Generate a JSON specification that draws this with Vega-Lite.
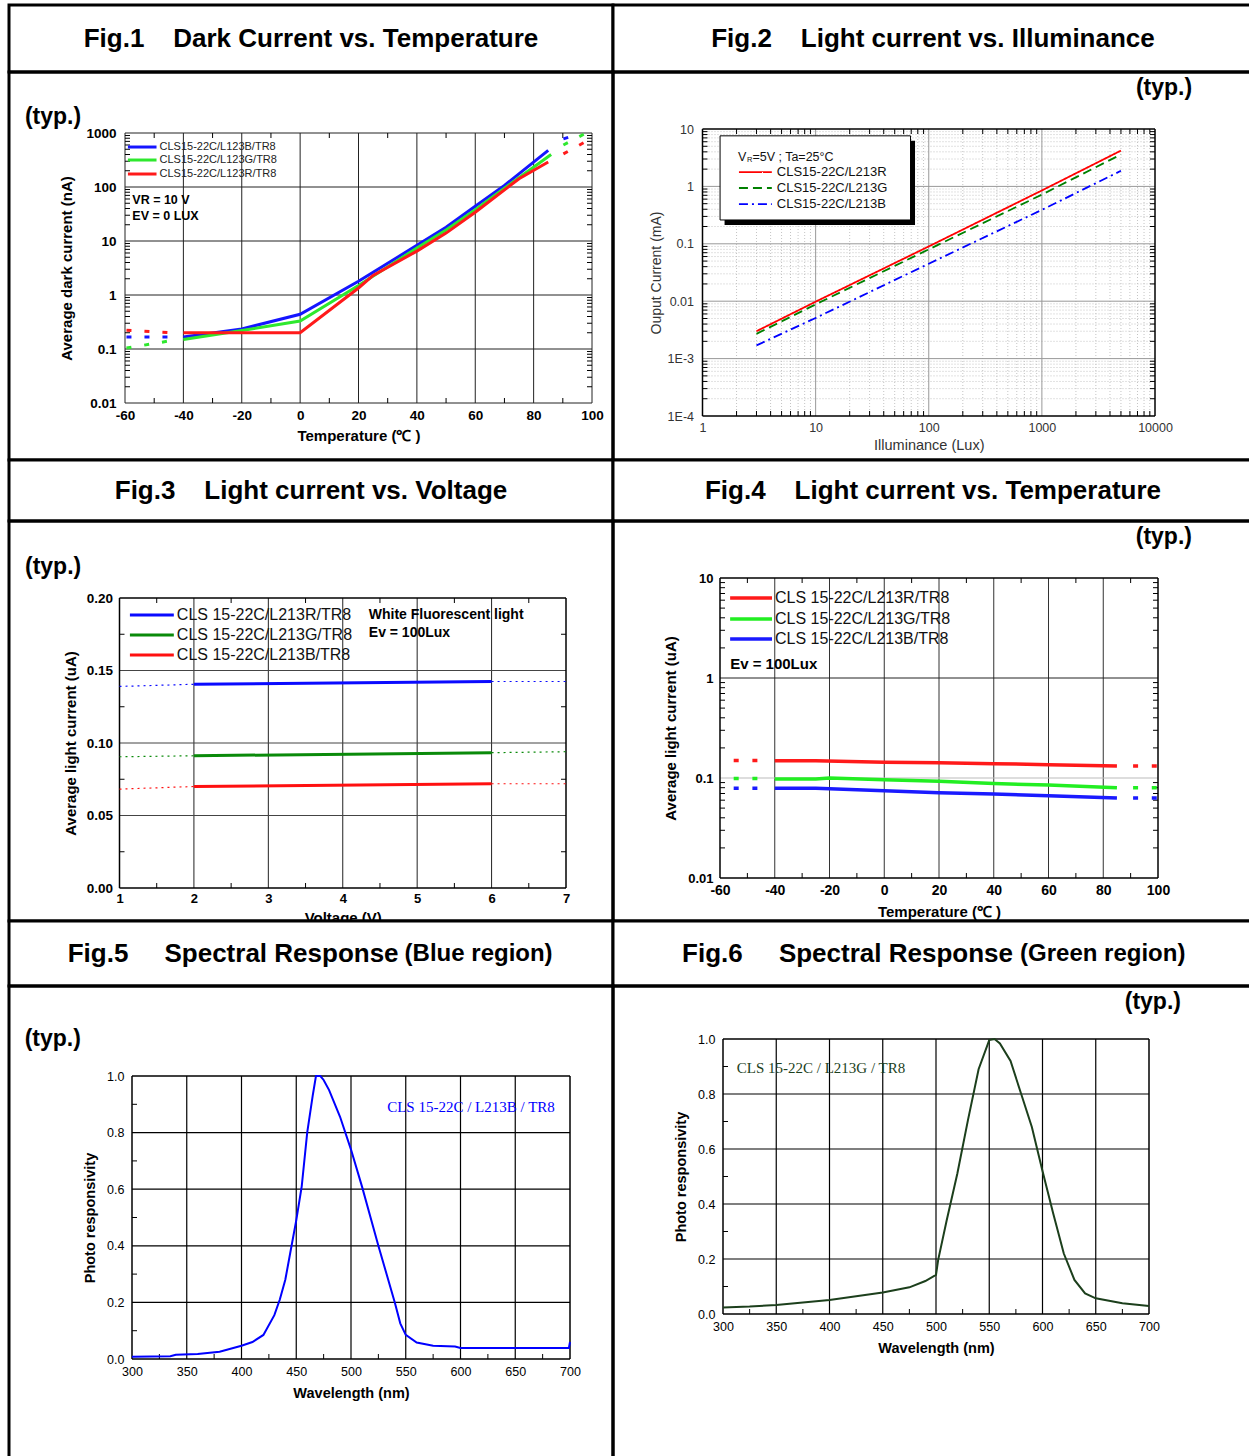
{
  "$schema": "https://vega.github.io/schema/vega-lite/v6.json",
  "background": "white",
  "padding": {"left": 7, "top": 3, "right": 0, "bottom": 0},
  "spacing": 0,
  "columns": 2,
  "bounds": "flush",
  "resolve": {"scale": {"color": "independent", "strokeDash": "independent"}},
  "config": {
    "font": "Liberation Sans",
    "view": {"stroke": "black", "strokeWidth": 3},
    "legend": {"disable": true},
    "concat": {"spacing": 0},
    "axis": {"grid": false, "domain": false, "ticks": false, "labelFlush": false, "labelOverlap": false, "labelBound": false, "labelColor": "#000", "titleColor": "#000", "labelFont": "Liberation Sans", "titleFont": "Liberation Sans"}
  },
  "datasets": {
    "lg1": [{"y": 0.02}, {"y": 0.03}, {"y": 0.04}, {"y": 0.05}, {"y": 0.06}, {"y": 0.07}, {"y": 0.08}, {"y": 0.09}, {"y": 0.2}, {"y": 0.3}, {"y": 0.4}, {"y": 0.5}, {"y": 0.6}, {"y": 0.7}, {"y": 0.8}, {"y": 0.9}, {"y": 2}, {"y": 3}, {"y": 4}, {"y": 5}, {"y": 6}, {"y": 7}, {"y": 8}, {"y": 9}, {"y": 20}, {"y": 30}, {"y": 40}, {"y": 50}, {"y": 60}, {"y": 70}, {"y": 80}, {"y": 90}, {"y": 200}, {"y": 300}, {"y": 400}, {"y": 500}, {"y": 600}, {"y": 700}, {"y": 800}, {"y": 900}],
    "lg2x": [{"x": 2}, {"x": 3}, {"x": 4}, {"x": 5}, {"x": 6}, {"x": 7}, {"x": 8}, {"x": 9}, {"x": 20}, {"x": 30}, {"x": 40}, {"x": 50}, {"x": 60}, {"x": 70}, {"x": 80}, {"x": 90}, {"x": 200}, {"x": 300}, {"x": 400}, {"x": 500}, {"x": 600}, {"x": 700}, {"x": 800}, {"x": 900}, {"x": 2000}, {"x": 3000}, {"x": 4000}, {"x": 5000}, {"x": 6000}, {"x": 7000}, {"x": 8000}, {"x": 9000}],
    "lg2y": [{"y": 0.0002}, {"y": 0.0003}, {"y": 0.0004}, {"y": 0.0005}, {"y": 0.0006}, {"y": 0.0007}, {"y": 0.0008}, {"y": 0.0009}, {"y": 0.002}, {"y": 0.003}, {"y": 0.004}, {"y": 0.005}, {"y": 0.006}, {"y": 0.007}, {"y": 0.008}, {"y": 0.009}, {"y": 0.02}, {"y": 0.03}, {"y": 0.04}, {"y": 0.05}, {"y": 0.06}, {"y": 0.07}, {"y": 0.08}, {"y": 0.09}, {"y": 0.2}, {"y": 0.3}, {"y": 0.4}, {"y": 0.5}, {"y": 0.6}, {"y": 0.7}, {"y": 0.8}, {"y": 0.9}, {"y": 2}, {"y": 3}, {"y": 4}, {"y": 5}, {"y": 6}, {"y": 7}, {"y": 8}, {"y": 9}],
    "lg4": [{"y": 0.02}, {"y": 0.03}, {"y": 0.04}, {"y": 0.05}, {"y": 0.06}, {"y": 0.07}, {"y": 0.08}, {"y": 0.09}, {"y": 0.2}, {"y": 0.3}, {"y": 0.4}, {"y": 0.5}, {"y": 0.6}, {"y": 0.7}, {"y": 0.8}, {"y": 0.9}, {"y": 2}, {"y": 3}, {"y": 4}, {"y": 5}, {"y": 6}, {"y": 7}, {"y": 8}, {"y": 9}],
    "t10": [{"x": -50}, {"x": -30}, {"x": -10}, {"x": 10}, {"x": 30}, {"x": 50}, {"x": 70}, {"x": 90}],
    "wl": [{"x": 325}, {"x": 375}, {"x": 425}, {"x": 475}, {"x": 525}, {"x": 575}, {"x": 625}, {"x": 675}],
    "r01": [{"y": 0.1}, {"y": 0.3}, {"y": 0.5}, {"y": 0.7}, {"y": 0.9}]
  },
  "concat": [
    {"width": 604, "height": 67, "view": {"fill": "white", "stroke": "black", "strokeWidth": 3}, "data": {"values": [{}]},
     "mark": {"type": "text", "text": "Fig.1\u00a0\u00a0\u00a0\u00a0Dark Current vs. Temperature", "fontSize": 26, "fontWeight": "bold", "align": "center", "baseline": "middle"}, "encoding": {}},
    {"width": 640, "height": 67, "view": {"fill": "white", "stroke": "black", "strokeWidth": 3}, "data": {"values": [{}]},
     "mark": {"type": "text", "text": "Fig.2\u00a0\u00a0\u00a0\u00a0Light current vs. Illuminance", "fontSize": 26, "fontWeight": "bold", "align": "center", "baseline": "middle"}, "encoding": {}},
    {
      "width": 604, "height": 388,
      "layer": [
        {"data": {"values": [{"x": -60}, {"x": -40}, {"x": -20}, {"x": 0}, {"x": 20}, {"x": 40}, {"x": 60}, {"x": 80}, {"x": 100}]},
         "mark": {"type": "rule", "color": "#222", "strokeWidth": 1},
         "encoding": {"x": {"field": "x", "type": "quantitative"}, "y": {"datum": 0.01}, "y2": {"datum": 1000}}},
        {"data": {"values": [{"y": 0.01}, {"y": 0.1}, {"y": 1}, {"y": 10}, {"y": 100}, {"y": 1000}]},
         "mark": {"type": "rule", "color": "#222", "strokeWidth": 1},
         "encoding": {"y": {"field": "y", "type": "quantitative"}, "x": {"datum": -60}, "x2": {"datum": 100}}},
        {"data": {"name": "t10"}, "mark": {"type": "tick", "orient": "vertical", "size": 5, "thickness": 1, "color": "#000", "opacity": 1, "yOffset": -2.5},
         "encoding": {"x": {"field": "x", "type": "quantitative"}, "y": {"datum": 0.01}}},
        {"data": {"name": "t10"}, "mark": {"type": "tick", "orient": "vertical", "size": 5, "thickness": 1, "color": "#000", "opacity": 1, "yOffset": 2.5},
         "encoding": {"x": {"field": "x", "type": "quantitative"}, "y": {"datum": 1000}}},
        {"data": {"name": "lg1"}, "mark": {"type": "tick", "orient": "horizontal", "size": 5, "thickness": 1, "color": "#000", "opacity": 1, "xOffset": 2.5},
         "encoding": {"y": {"field": "y", "type": "quantitative"}, "x": {"datum": -60}}},
        {"data": {"name": "lg1"}, "mark": {"type": "tick", "orient": "horizontal", "size": 5, "thickness": 1, "color": "#000", "opacity": 1, "xOffset": -2.5},
         "encoding": {"y": {"field": "y", "type": "quantitative"}, "x": {"datum": 100}}},
        {"data": {"values": [
          {"s": "B", "g": "L", "x": -59.5, "y": 0.167}, {"s": "B", "g": "L", "x": -44.5, "y": 0.167},
          {"s": "B", "g": "R", "x": 90.2, "y": 780}, {"s": "B", "g": "R", "x": 91.9, "y": 830},
          {"s": "G", "g": "L", "x": -59.5, "y": 0.104}, {"s": "G", "g": "L", "x": -44.5, "y": 0.142},
          {"s": "G", "g": "R", "x": 90.2, "y": 600}, {"s": "G", "g": "R", "x": 98, "y": 1000},
          {"s": "R", "g": "L", "x": -59.5, "y": 0.222}, {"s": "R", "g": "L", "x": -44.5, "y": 0.2},
          {"s": "R", "g": "R", "x": 90.2, "y": 410}, {"s": "R", "g": "R", "x": 98, "y": 700}]},
         "mark": {"type": "line", "strokeWidth": 3, "strokeDash": [5, 13], "strokeCap": "butt"},
         "encoding": {"x": {"field": "x", "type": "quantitative"}, "y": {"field": "y", "type": "quantitative"},
           "color": {"field": "s", "type": "nominal", "scale": {"domain": ["B", "G", "R"], "range": ["#1515ff", "#2ee82e", "#ff1a1a"]}}, "detail": {"field": "g"}}},
        {"data": {"values": [
          {"s": "B", "x": -40, "y": 0.167}, {"s": "B", "x": -20, "y": 0.235}, {"s": "B", "x": 0, "y": 0.44}, {"s": "B", "x": 20, "y": 1.8}, {"s": "B", "x": 40, "y": 8.3}, {"s": "B", "x": 50, "y": 18}, {"s": "B", "x": 60, "y": 44}, {"s": "B", "x": 70, "y": 107}, {"s": "B", "x": 85, "y": 478},
          {"s": "G", "x": -40, "y": 0.15}, {"s": "G", "x": -20, "y": 0.22}, {"s": "G", "x": 0, "y": 0.33}, {"s": "G", "x": 20, "y": 1.5}, {"s": "G", "x": 40, "y": 7.4}, {"s": "G", "x": 50, "y": 16}, {"s": "G", "x": 60, "y": 38}, {"s": "G", "x": 70, "y": 95}, {"s": "G", "x": 86, "y": 400},
          {"s": "R", "x": -40, "y": 0.2}, {"s": "R", "x": -25, "y": 0.2}, {"s": "R", "x": 0, "y": 0.2}, {"s": "R", "x": 20, "y": 1.35}, {"s": "R", "x": 25, "y": 2.3}, {"s": "R", "x": 40, "y": 6.5}, {"s": "R", "x": 50, "y": 14}, {"s": "R", "x": 60, "y": 34}, {"s": "R", "x": 75, "y": 142}, {"s": "R", "x": 85, "y": 290}]},
         "mark": {"type": "line", "strokeWidth": 3},
         "encoding": {
           "x": {"field": "x", "type": "quantitative",
             "scale": {"domain": [-60, 100], "range": [116, 583], "nice": false, "zero": false},
             "axis": {"values": [-60, -40, -20, 0, 20, 40, 60, 80, 100], "labelExpr": "'' + datum.value", "offset": -57, "labelFontWeight": "bold", "labelFontSize": 13.5, "labelPadding": 5, "title": "Temperature (\u2103 )", "titleFontSize": 15, "titleFontWeight": "bold", "titlePadding": 7}},
           "y": {"field": "y", "type": "quantitative",
             "scale": {"type": "log", "domain": [0.01, 1000], "range": [331, 61], "nice": false},
             "axis": {"values": [0.01, 0.1, 1, 10, 100, 1000], "format": "~g", "offset": -116, "labelFontWeight": "bold", "labelFontSize": 13.5, "labelPadding": 9, "title": "Average dark current (nA)", "titleFontSize": 15, "titleFontWeight": "bold", "titlePadding": 11}},
           "color": {"field": "s", "type": "nominal", "scale": {"domain": ["B", "G", "R"], "range": ["#1515ff", "#2ee82e", "#ff1a1a"]}}}},
        {"data": {"values": [
          {"s": "B", "x": -59, "x2": -49.2, "y": 550}, {"s": "G", "x": -59, "x2": -49.2, "y": 316}, {"s": "R", "x": -59, "x2": -49.2, "y": 174}]},
         "mark": {"type": "rule", "strokeWidth": 3},
         "encoding": {"x": {"field": "x", "type": "quantitative"}, "x2": {"field": "x2"}, "y": {"field": "y", "type": "quantitative"},
           "color": {"field": "s", "type": "nominal", "scale": {"domain": ["B", "G", "R"], "range": ["#1515ff", "#2ee82e", "#ff1a1a"]}}}},
        {"data": {"values": [
          {"x": -49.2, "y": 550, "t": "CLS15-22C/L123B/TR8"}, {"x": -49.2, "y": 316, "t": "CLS15-22C/L123G/TR8"}, {"x": -49.2, "y": 174, "t": "CLS15-22C/L123R/TR8"}]},
         "mark": {"type": "text", "align": "left", "baseline": "middle", "dx": 3, "fontSize": 11, "color": "#222"},
         "encoding": {"x": {"field": "x", "type": "quantitative"}, "y": {"field": "y", "type": "quantitative"}, "text": {"field": "t"}}},
        {"data": {"values": [{"x": -57.5, "y": 57, "t": "VR = 10 V"}, {"x": -57.5, "y": 29, "t": "EV = 0 LUX"}]},
         "mark": {"type": "text", "align": "left", "baseline": "middle", "fontSize": 12.5, "fontWeight": "bold"},
         "encoding": {"x": {"field": "x", "type": "quantitative"}, "y": {"field": "y", "type": "quantitative"}, "text": {"field": "t"}}},
        {"data": {"values": [{"x": -94.3, "y": 1978, "t": "(typ.)"}]},
         "mark": {"type": "text", "align": "left", "baseline": "middle", "fontSize": 23, "fontWeight": "bold"},
         "encoding": {"x": {"field": "x", "type": "quantitative"}, "y": {"field": "y", "type": "quantitative"}, "text": {"field": "t"}}}
      ]
    },
    {
      "width": 640, "height": 388,
      "layer": [
        {"data": {"name": "lg2x"},
         "mark": {"type": "rule", "color": "#c4c4c4", "strokeWidth": 1, "strokeDash": [1, 2]},
         "encoding": {"x": {"field": "x", "type": "quantitative"}, "y": {"datum": 0.0001}, "y2": {"datum": 10}}},
        {"data": {"name": "lg2y"},
         "mark": {"type": "rule", "color": "#c4c4c4", "strokeWidth": 1, "strokeDash": [1, 2]},
         "encoding": {"y": {"field": "y", "type": "quantitative"}, "x": {"datum": 1}, "x2": {"datum": 10000}}},
        {"data": {"values": [{"x": 10}, {"x": 100}, {"x": 1000}]},
         "mark": {"type": "rule", "color": "#999", "strokeWidth": 1},
         "encoding": {"x": {"field": "x", "type": "quantitative"}, "y": {"datum": 0.0001}, "y2": {"datum": 10}}},
        {"data": {"values": [{"y": 0.001}, {"y": 0.01}, {"y": 0.1}, {"y": 1}]},
         "mark": {"type": "rule", "color": "#999", "strokeWidth": 1},
         "encoding": {"y": {"field": "y", "type": "quantitative"}, "x": {"datum": 1}, "x2": {"datum": 10000}}},
        {"data": {"values": [{"x": 1}, {"x": 10000}]},
         "mark": {"type": "rule", "color": "#000", "strokeWidth": 1.5},
         "encoding": {"x": {"field": "x", "type": "quantitative"}, "y": {"datum": 0.0001}, "y2": {"datum": 10}}},
        {"data": {"values": [{"y": 0.0001}, {"y": 10}]},
         "mark": {"type": "rule", "color": "#000", "strokeWidth": 1.5},
         "encoding": {"y": {"field": "y", "type": "quantitative"}, "x": {"datum": 1}, "x2": {"datum": 10000}}},
        {"data": {"name": "lg2x"}, "mark": {"type": "tick", "orient": "vertical", "size": 5, "thickness": 1, "color": "#000", "opacity": 1, "yOffset": -2.5},
         "encoding": {"x": {"field": "x", "type": "quantitative"}, "y": {"datum": 0.0001}}},
        {"data": {"name": "lg2x"}, "mark": {"type": "tick", "orient": "vertical", "size": 5, "thickness": 1, "color": "#000", "opacity": 1, "yOffset": 2.5},
         "encoding": {"x": {"field": "x", "type": "quantitative"}, "y": {"datum": 10}}},
        {"data": {"name": "lg2y"}, "mark": {"type": "tick", "orient": "horizontal", "size": 5, "thickness": 1, "color": "#000", "opacity": 1, "xOffset": 2.5},
         "encoding": {"y": {"field": "y", "type": "quantitative"}, "x": {"datum": 1}}},
        {"data": {"name": "lg2y"}, "mark": {"type": "tick", "orient": "horizontal", "size": 5, "thickness": 1, "color": "#000", "opacity": 1, "xOffset": -2.5},
         "encoding": {"y": {"field": "y", "type": "quantitative"}, "x": {"datum": 10000}}},
        {"data": {"values": [
          {"s": "R", "x": 3, "y": 0.003}, {"s": "R", "x": 10, "y": 0.0098}, {"s": "R", "x": 100, "y": 0.09}, {"s": "R", "x": 1000, "y": 0.85}, {"s": "R", "x": 5000, "y": 4.2},
          {"s": "G", "x": 3, "y": 0.0027}, {"s": "G", "x": 10, "y": 0.0088}, {"s": "G", "x": 100, "y": 0.08}, {"s": "G", "x": 1000, "y": 0.72}, {"s": "G", "x": 5000, "y": 3.6},
          {"s": "B", "x": 3, "y": 0.0017}, {"s": "B", "x": 10, "y": 0.0051}, {"s": "B", "x": 100, "y": 0.045}, {"s": "B", "x": 1000, "y": 0.39}, {"s": "B", "x": 5000, "y": 1.87}]},
         "mark": {"type": "line", "strokeWidth": 1.8},
         "encoding": {
           "x": {"field": "x", "type": "quantitative",
             "scale": {"type": "log", "domain": [1, 10000], "range": [89.5, 542], "nice": false},
             "axis": {"values": [1, 10, 100, 1000, 10000], "format": "~g", "offset": -44, "labelFontSize": 12.5, "labelColor": "#333", "labelPadding": 5, "title": "Illuminance (Lux)", "titleFontSize": 14.5, "titleFontWeight": "normal", "titleColor": "#333", "titlePadding": 5}},
           "y": {"field": "y", "type": "quantitative",
             "scale": {"type": "log", "domain": [0.0001, 10], "range": [344, 57], "nice": false},
             "axis": {"values": [0.0001, 0.001, 0.01, 0.1, 1, 10], "labelExpr": "datum.value < 0.0005 ? '1E-4' : datum.value < 0.005 ? '1E-3' : format(datum.value, '~g')", "offset": -89.5, "labelFontSize": 12.5, "labelColor": "#333", "labelPadding": 9, "title": "Ouput Current (mA)", "titleFontSize": 14, "titleFontWeight": "normal", "titleColor": "#333", "titlePadding": 4}},
           "color": {"field": "s", "type": "nominal", "scale": {"domain": ["R", "G", "B"], "range": ["#ff0000", "#008000", "#0000ff"]}},
           "strokeDash": {"field": "s", "type": "nominal", "scale": {"domain": ["R", "G", "B"], "range": [[1, 0], [9, 5], [9, 4, 2, 4]]}}}},
        {"data": {"values": [{"x": 1.43, "x2": 69, "y": 7.6, "y2": 0.26}]},
         "mark": {"type": "rect", "color": "#000", "opacity": 1, "xOffset": 4.5, "x2Offset": 4.5, "yOffset": 5, "y2Offset": 5},
         "encoding": {"x": {"field": "x", "type": "quantitative"}, "x2": {"field": "x2"}, "y": {"field": "y", "type": "quantitative"}, "y2": {"field": "y2"}}},
        {"data": {"values": [{"x": 1.43, "x2": 69, "y": 7.6, "y2": 0.26}]},
         "mark": {"type": "rect", "fill": "white", "stroke": "black", "strokeWidth": 1, "opacity": 1},
         "encoding": {"x": {"field": "x", "type": "quantitative"}, "x2": {"field": "x2"}, "y": {"field": "y", "type": "quantitative"}, "y2": {"field": "y2"}}},
        {"data": {"values": [
          {"s": "R", "x": 2.1, "x2": 4.1, "y": 1.78}, {"s": "G", "x": 2.1, "x2": 4.1, "y": 0.937}, {"s": "B", "x": 2.1, "x2": 4.1, "y": 0.493}]},
         "mark": {"type": "rule", "strokeWidth": 1.8},
         "encoding": {
           "x": {"field": "x", "type": "quantitative"}, "x2": {"field": "x2"}, "y": {"field": "y", "type": "quantitative"},
           "color": {"field": "s", "type": "nominal", "scale": {"domain": ["R", "G", "B"], "range": ["#ff0000", "#008000", "#0000ff"]}},
           "strokeDash": {"field": "s", "type": "nominal", "scale": {"domain": ["R", "G", "B"], "range": [[1, 0], [9, 5], [9, 4, 2, 4]]}}}},
        {"data": {"values": [
          {"x": 4.1, "y": 1.78, "t": "CLS15-22C/L213R"}, {"x": 4.1, "y": 0.937, "t": "CLS15-22C/L213G"}, {"x": 4.1, "y": 0.493, "t": "CLS15-22C/L213B"}]},
         "mark": {"type": "text", "align": "left", "baseline": "middle", "dx": 5, "fontSize": 13, "color": "#111"},
         "encoding": {"x": {"field": "x", "type": "quantitative"}, "y": {"field": "y", "type": "quantitative"}, "text": {"field": "t"}}},
        {"data": {"values": [{"x": 2.06, "y": 3.25, "t": "V"}]},
         "mark": {"type": "text", "align": "left", "baseline": "middle", "fontSize": 12.5, "color": "#111"},
         "encoding": {"x": {"field": "x", "type": "quantitative"}, "y": {"field": "y", "type": "quantitative"}, "text": {"field": "t"}}},
        {"data": {"values": [{"x": 2.47, "y": 2.9, "t": "R"}]},
         "mark": {"type": "text", "align": "left", "baseline": "middle", "fontSize": 7.5, "color": "#111"},
         "encoding": {"x": {"field": "x", "type": "quantitative"}, "y": {"field": "y", "type": "quantitative"}, "text": {"field": "t"}}},
        {"data": {"values": [{"x": 2.76, "y": 3.25, "t": "=5V ; Ta=25\u00b0C"}]},
         "mark": {"type": "text", "align": "left", "baseline": "middle", "fontSize": 12.5, "color": "#111"},
         "encoding": {"x": {"field": "x", "type": "quantitative"}, "y": {"field": "y", "type": "quantitative"}, "text": {"field": "t"}}},
        {"data": {"values": [{"x": 21300, "y": 51.8, "t": "(typ.)"}]},
         "mark": {"type": "text", "align": "right", "baseline": "middle", "fontSize": 23, "fontWeight": "bold"},
         "encoding": {"x": {"field": "x", "type": "quantitative"}, "y": {"field": "y", "type": "quantitative"}, "text": {"field": "t"}}}
      ]
    },
    {"width": 604, "height": 61, "view": {"fill": "white", "stroke": "black", "strokeWidth": 3}, "data": {"values": [{}]},
     "mark": {"type": "text", "text": "Fig.3\u00a0\u00a0\u00a0\u00a0Light current vs. Voltage", "fontSize": 26, "fontWeight": "bold", "align": "center", "baseline": "middle"}, "encoding": {}},
    {"width": 640, "height": 61, "view": {"fill": "white", "stroke": "black", "strokeWidth": 3}, "data": {"values": [{}]},
     "mark": {"type": "text", "text": "Fig.4\u00a0\u00a0\u00a0\u00a0Light current vs. Temperature", "fontSize": 26, "fontWeight": "bold", "align": "center", "baseline": "middle"}, "encoding": {}},
    {
      "width": 604, "height": 400,
      "layer": [
        {"data": {"values": [{"x": 2}, {"x": 3}, {"x": 4}, {"x": 5}, {"x": 6}]},
         "mark": {"type": "rule", "color": "#222", "strokeWidth": 1},
         "encoding": {"x": {"field": "x", "type": "quantitative"}, "y": {"datum": 0}, "y2": {"datum": 0.2}}},
        {"data": {"values": [{"y": 0.05}, {"y": 0.1}, {"y": 0.15}]},
         "mark": {"type": "rule", "color": "#444", "strokeWidth": 1},
         "encoding": {"y": {"field": "y", "type": "quantitative"}, "x": {"datum": 1}, "x2": {"datum": 7}}},
        {"data": {"values": [{"x": 1}, {"x": 7}]},
         "mark": {"type": "rule", "color": "#000", "strokeWidth": 1.5},
         "encoding": {"x": {"field": "x", "type": "quantitative"}, "y": {"datum": 0}, "y2": {"datum": 0.2}}},
        {"data": {"values": [{"y": 0}, {"y": 0.2}]},
         "mark": {"type": "rule", "color": "#000", "strokeWidth": 1.5},
         "encoding": {"y": {"field": "y", "type": "quantitative"}, "x": {"datum": 1}, "x2": {"datum": 7}}},
        {"data": {"values": [{"x": 1.5}, {"x": 2.5}, {"x": 3.5}, {"x": 4.5}, {"x": 5.5}, {"x": 6.5}]},
         "mark": {"type": "tick", "orient": "vertical", "size": 5, "thickness": 1, "color": "#000", "opacity": 1, "yOffset": -2.5},
         "encoding": {"x": {"field": "x", "type": "quantitative"}, "y": {"datum": 0}}},
        {"data": {"values": [{"x": 1.5}, {"x": 2.5}, {"x": 3.5}, {"x": 4.5}, {"x": 5.5}, {"x": 6.5}]},
         "mark": {"type": "tick", "orient": "vertical", "size": 5, "thickness": 1, "color": "#000", "opacity": 1, "yOffset": 2.5},
         "encoding": {"x": {"field": "x", "type": "quantitative"}, "y": {"datum": 0.2}}},
        {"data": {"values": [{"y": 0.025}, {"y": 0.075}, {"y": 0.125}, {"y": 0.175}]},
         "mark": {"type": "tick", "orient": "horizontal", "size": 5, "thickness": 1, "color": "#000", "opacity": 1, "xOffset": 2.5},
         "encoding": {"y": {"field": "y", "type": "quantitative"}, "x": {"datum": 1}}},
        {"data": {"values": [{"y": 0.025}, {"y": 0.075}, {"y": 0.125}, {"y": 0.175}]},
         "mark": {"type": "tick", "orient": "horizontal", "size": 5, "thickness": 1, "color": "#000", "opacity": 1, "xOffset": -2.5},
         "encoding": {"y": {"field": "y", "type": "quantitative"}, "x": {"datum": 7}}},
        {"data": {"values": [
          {"s": "B", "g": "L", "x": 1, "y": 0.139}, {"s": "B", "g": "L", "x": 2, "y": 0.1405},
          {"s": "B", "g": "R", "x": 6, "y": 0.1424}, {"s": "B", "g": "R", "x": 7, "y": 0.1424},
          {"s": "G", "g": "L", "x": 1, "y": 0.0905}, {"s": "G", "g": "L", "x": 2, "y": 0.0912},
          {"s": "G", "g": "R", "x": 6, "y": 0.0933}, {"s": "G", "g": "R", "x": 7, "y": 0.094},
          {"s": "R", "g": "L", "x": 1, "y": 0.0682}, {"s": "R", "g": "L", "x": 2, "y": 0.07},
          {"s": "R", "g": "R", "x": 6, "y": 0.0719}, {"s": "R", "g": "R", "x": 7, "y": 0.0719}]},
         "mark": {"type": "line", "strokeWidth": 1.2, "strokeDash": [2, 4]},
         "encoding": {"x": {"field": "x", "type": "quantitative"}, "y": {"field": "y", "type": "quantitative"},
           "color": {"field": "s", "type": "nominal", "scale": {"domain": ["B", "G", "R"], "range": ["#0a0aff", "#0a8a0a", "#ff1010"]}}, "detail": {"field": "g"}}},
        {"data": {"values": [
          {"s": "B", "x": 2, "y": 0.1405}, {"s": "B", "x": 6, "y": 0.1424},
          {"s": "G", "x": 2, "y": 0.0912}, {"s": "G", "x": 6, "y": 0.0933},
          {"s": "R", "x": 2, "y": 0.07}, {"s": "R", "x": 6, "y": 0.0719}]},
         "mark": {"type": "line", "strokeWidth": 3},
         "encoding": {
           "x": {"field": "x", "type": "quantitative",
             "scale": {"domain": [1, 7], "range": [110.5, 557], "nice": false, "zero": false},
             "axis": {"values": [1, 2, 3, 4, 5, 6, 7], "format": "d", "offset": -33, "labelFontWeight": "bold", "labelFontSize": 13, "labelPadding": 4, "title": "Voltage (V)", "titleFontSize": 15, "titleFontWeight": "bold", "titlePadding": 5}},
           "y": {"field": "y", "type": "quantitative",
             "scale": {"domain": [0, 0.2], "range": [367, 77], "nice": false, "zero": false},
             "axis": {"values": [0, 0.05, 0.1, 0.15, 0.2], "format": ".2f", "offset": -110.5, "labelFontWeight": "bold", "labelFontSize": 13.5, "labelPadding": 7, "title": "Average light current (uA)", "titleFontSize": 15, "titleFontWeight": "bold", "titlePadding": 8}},
           "color": {"field": "s", "type": "nominal", "scale": {"domain": ["B", "G", "R"], "range": ["#0a0aff", "#0a8a0a", "#ff1010"]}}}},
        {"data": {"values": [
          {"s": "B", "x": 1.14, "x2": 1.73, "y": 0.1883}, {"s": "G", "x": 1.14, "x2": 1.73, "y": 0.1745}, {"s": "R", "x": 1.14, "x2": 1.73, "y": 0.1607}]},
         "mark": {"type": "rule", "strokeWidth": 3},
         "encoding": {"x": {"field": "x", "type": "quantitative"}, "x2": {"field": "x2"}, "y": {"field": "y", "type": "quantitative"},
           "color": {"field": "s", "type": "nominal", "scale": {"domain": ["B", "G", "R"], "range": ["#0a0aff", "#0a8a0a", "#ff1010"]}}}},
        {"data": {"values": [
          {"x": 1.73, "y": 0.1883, "t": "CLS 15-22C/L213R/TR8"}, {"x": 1.73, "y": 0.1745, "t": "CLS 15-22C/L213G/TR8"}, {"x": 1.73, "y": 0.1607, "t": "CLS 15-22C/L213B/TR8"}]},
         "mark": {"type": "text", "align": "left", "baseline": "middle", "dx": 3, "fontSize": 16, "color": "#111"},
         "encoding": {"x": {"field": "x", "type": "quantitative"}, "y": {"field": "y", "type": "quantitative"}, "text": {"field": "t"}}},
        {"data": {"values": [{"x": 4.35, "y": 0.1883, "t": "White Fluorescent light"}, {"x": 4.35, "y": 0.1758, "t": "Ev = 100Lux"}]},
         "mark": {"type": "text", "align": "left", "baseline": "middle", "fontSize": 14, "fontWeight": "bold"},
         "encoding": {"x": {"field": "x", "type": "quantitative"}, "y": {"field": "y", "type": "quantitative"}, "text": {"field": "t"}}},
        {"data": {"values": [{"x": -0.27, "y": 0.2215, "t": "(typ.)"}]},
         "mark": {"type": "text", "align": "left", "baseline": "middle", "fontSize": 23, "fontWeight": "bold"},
         "encoding": {"x": {"field": "x", "type": "quantitative"}, "y": {"field": "y", "type": "quantitative"}, "text": {"field": "t"}}}
      ]
    },
    {
      "width": 640, "height": 400,
      "layer": [
        {"data": {"values": [{"x": -40}, {"x": -20}, {"x": 0}, {"x": 20}, {"x": 40}, {"x": 60}, {"x": 80}]},
         "mark": {"type": "rule", "color": "#333", "strokeWidth": 1},
         "encoding": {"x": {"field": "x", "type": "quantitative"}, "y": {"datum": 0.01}, "y2": {"datum": 10}}},
        {"data": {"values": [{"y": 0.1}]},
         "mark": {"type": "rule", "color": "#bbb", "strokeWidth": 1},
         "encoding": {"y": {"field": "y", "type": "quantitative"}, "x": {"datum": -60}, "x2": {"datum": 100}}},
        {"data": {"values": [{"y": 1}]},
         "mark": {"type": "rule", "color": "#222", "strokeWidth": 1},
         "encoding": {"y": {"field": "y", "type": "quantitative"}, "x": {"datum": -60}, "x2": {"datum": 100}}},
        {"data": {"values": [{"x": -60}, {"x": 100}]},
         "mark": {"type": "rule", "color": "#000", "strokeWidth": 1.5},
         "encoding": {"x": {"field": "x", "type": "quantitative"}, "y": {"datum": 0.01}, "y2": {"datum": 10}}},
        {"data": {"values": [{"y": 0.01}, {"y": 10}]},
         "mark": {"type": "rule", "color": "#000", "strokeWidth": 1.5},
         "encoding": {"y": {"field": "y", "type": "quantitative"}, "x": {"datum": -60}, "x2": {"datum": 100}}},
        {"data": {"name": "t10"}, "mark": {"type": "tick", "orient": "vertical", "size": 5, "thickness": 1, "color": "#000", "opacity": 1, "yOffset": -2.5},
         "encoding": {"x": {"field": "x", "type": "quantitative"}, "y": {"datum": 0.01}}},
        {"data": {"name": "t10"}, "mark": {"type": "tick", "orient": "vertical", "size": 5, "thickness": 1, "color": "#000", "opacity": 1, "yOffset": 2.5},
         "encoding": {"x": {"field": "x", "type": "quantitative"}, "y": {"datum": 10}}},
        {"data": {"name": "lg4"}, "mark": {"type": "tick", "orient": "horizontal", "size": 5, "thickness": 1, "color": "#000", "opacity": 1, "xOffset": 2.5},
         "encoding": {"y": {"field": "y", "type": "quantitative"}, "x": {"datum": -60}}},
        {"data": {"name": "lg4"}, "mark": {"type": "tick", "orient": "horizontal", "size": 5, "thickness": 1, "color": "#000", "opacity": 1, "xOffset": -2.5},
         "encoding": {"y": {"field": "y", "type": "quantitative"}, "x": {"datum": 100}}},
        {"data": {"values": [
          {"s": "R", "g": "L", "x": -55, "y": 0.15}, {"s": "R", "g": "L", "x": -42, "y": 0.15},
          {"s": "R", "g": "R", "x": 90.9, "y": 0.132}, {"s": "R", "g": "R", "x": 99.9, "y": 0.132},
          {"s": "G", "g": "L", "x": -55, "y": 0.099}, {"s": "G", "g": "L", "x": -42, "y": 0.099},
          {"s": "G", "g": "R", "x": 90.9, "y": 0.08}, {"s": "G", "g": "R", "x": 99.9, "y": 0.08},
          {"s": "B", "g": "L", "x": -55, "y": 0.079}, {"s": "B", "g": "L", "x": -42, "y": 0.079},
          {"s": "B", "g": "R", "x": 90.9, "y": 0.063}, {"s": "B", "g": "R", "x": 99.9, "y": 0.063}]},
         "mark": {"type": "line", "strokeWidth": 3.5, "strokeDash": [5, 13.7], "strokeCap": "butt"},
         "encoding": {"x": {"field": "x", "type": "quantitative"}, "y": {"field": "y", "type": "quantitative"},
           "color": {"field": "s", "type": "nominal", "scale": {"domain": ["R", "G", "B"], "range": ["#ff1a1a", "#22ee22", "#1a1aff"]}}, "detail": {"field": "g"}}},
        {"data": {"values": [
          {"s": "R", "x": -40, "y": 0.149}, {"s": "R", "x": -25, "y": 0.149}, {"s": "R", "x": 0, "y": 0.144}, {"s": "R", "x": 20, "y": 0.142}, {"s": "R", "x": 40, "y": 0.139}, {"s": "R", "x": 60, "y": 0.136}, {"s": "R", "x": 85, "y": 0.132},
          {"s": "G", "x": -40, "y": 0.098}, {"s": "G", "x": -25, "y": 0.098}, {"s": "G", "x": -20, "y": 0.1}, {"s": "G", "x": 0, "y": 0.096}, {"s": "G", "x": 20, "y": 0.093}, {"s": "G", "x": 40, "y": 0.088}, {"s": "G", "x": 60, "y": 0.085}, {"s": "G", "x": 85, "y": 0.08},
          {"s": "B", "x": -40, "y": 0.0788}, {"s": "B", "x": -25, "y": 0.0788}, {"s": "B", "x": 0, "y": 0.0746}, {"s": "B", "x": 20, "y": 0.0713}, {"s": "B", "x": 40, "y": 0.069}, {"s": "B", "x": 60, "y": 0.0665}, {"s": "B", "x": 85, "y": 0.063}]},
         "mark": {"type": "line", "strokeWidth": 3.5},
         "encoding": {
           "x": {"field": "x", "type": "quantitative",
             "scale": {"domain": [-60, 100], "range": [107, 545], "nice": false, "zero": false},
             "axis": {"values": [-60, -40, -20, 0, 20, 40, 60, 80, 100], "labelExpr": "'' + datum.value", "offset": -43, "labelFontWeight": "bold", "labelFontSize": 14, "labelPadding": 5, "title": "Temperature (\u2103 )", "titleFontSize": 15, "titleFontWeight": "bold", "titlePadding": 7}},
           "y": {"field": "y", "type": "quantitative",
             "scale": {"type": "log", "domain": [0.01, 10], "range": [357, 57], "nice": false},
             "axis": {"values": [0.01, 0.1, 1, 10], "format": "~g", "offset": -107, "labelFontWeight": "bold", "labelFontSize": 13, "labelPadding": 7, "title": "Average light current (uA)", "titleFontSize": 15, "titleFontWeight": "bold", "titlePadding": 9}},
           "color": {"field": "s", "type": "nominal", "scale": {"domain": ["R", "G", "B"], "range": ["#ff1a1a", "#22ee22", "#1a1aff"]}}}},
        {"data": {"values": [
          {"s": "R", "x": -56.3, "x2": -41, "y": 6.31}, {"s": "G", "x": -56.3, "x2": -41, "y": 3.89}, {"s": "B", "x": -56.3, "x2": -41, "y": 2.45}]},
         "mark": {"type": "rule", "strokeWidth": 3.5},
         "encoding": {"x": {"field": "x", "type": "quantitative"}, "x2": {"field": "x2"}, "y": {"field": "y", "type": "quantitative"},
           "color": {"field": "s", "type": "nominal", "scale": {"domain": ["R", "G", "B"], "range": ["#ff1a1a", "#22ee22", "#1a1aff"]}}}},
        {"data": {"values": [
          {"x": -41, "y": 6.31, "t": "CLS 15-22C/L213R/TR8"}, {"x": -41, "y": 3.89, "t": "CLS 15-22C/L213G/TR8"}, {"x": -41, "y": 2.45, "t": "CLS 15-22C/L213B/TR8"}]},
         "mark": {"type": "text", "align": "left", "baseline": "middle", "dx": 3, "fontSize": 16, "color": "#111"},
         "encoding": {"x": {"field": "x", "type": "quantitative"}, "y": {"field": "y", "type": "quantitative"}, "text": {"field": "t"}}},
        {"data": {"values": [{"x": -56.3, "y": 1.38, "t": "Ev = 100Lux"}]},
         "mark": {"type": "text", "align": "left", "baseline": "middle", "fontSize": 15, "fontWeight": "bold"},
         "encoding": {"x": {"field": "x", "type": "quantitative"}, "y": {"field": "y", "type": "quantitative"}, "text": {"field": "t"}}},
        {"data": {"values": [{"x": 112.4, "y": 25.7, "t": "(typ.)"}]},
         "mark": {"type": "text", "align": "right", "baseline": "middle", "fontSize": 23, "fontWeight": "bold"},
         "encoding": {"x": {"field": "x", "type": "quantitative"}, "y": {"field": "y", "type": "quantitative"}, "text": {"field": "t"}}}
      ]
    },
    {"width": 604, "height": 65, "view": {"fill": "white", "stroke": "black", "strokeWidth": 3},
     "encoding": {"x": {"field": "x", "type": "quantitative", "scale": {"domain": [0, 1], "nice": false, "zero": false}, "axis": null}},
     "layer": [
       {"data": {"values": [{"x": 0.645}]},
        "mark": {"type": "text", "text": "Fig.5\u00a0\u00a0\u00a0\u00a0\u00a0Spectral Response", "fontSize": 26, "fontWeight": "bold", "align": "right", "baseline": "middle"}},
       {"data": {"values": [{"x": 0.655}]},
        "mark": {"type": "text", "text": "(Blue region)", "fontSize": 24, "fontWeight": "bold", "align": "left", "baseline": "middle"}}
     ]},
    {"width": 640, "height": 65, "view": {"fill": "white", "stroke": "black", "strokeWidth": 3},
     "encoding": {"x": {"field": "x", "type": "quantitative", "scale": {"domain": [0, 1], "nice": false, "zero": false}, "axis": null}},
     "layer": [
       {"data": {"values": [{"x": 0.625}]},
        "mark": {"type": "text", "text": "Fig.6\u00a0\u00a0\u00a0\u00a0\u00a0Spectral Response", "fontSize": 26, "fontWeight": "bold", "align": "right", "baseline": "middle"}},
       {"data": {"values": [{"x": 0.636}]},
        "mark": {"type": "text", "text": "(Green region)", "fontSize": 24, "fontWeight": "bold", "align": "left", "baseline": "middle"}}
     ]},
    {
      "width": 604, "height": 480,
      "layer": [
        {"data": {"values": [{"x": 350}, {"x": 400}, {"x": 450}, {"x": 500}, {"x": 550}, {"x": 600}, {"x": 650}]},
         "mark": {"type": "rule", "color": "#000", "strokeWidth": 1.2},
         "encoding": {"x": {"field": "x", "type": "quantitative"}, "y": {"datum": 0}, "y2": {"datum": 1}}},
        {"data": {"values": [{"y": 0.2}, {"y": 0.4}, {"y": 0.6}, {"y": 0.8}]},
         "mark": {"type": "rule", "color": "#000", "strokeWidth": 1.2},
         "encoding": {"y": {"field": "y", "type": "quantitative"}, "x": {"datum": 300}, "x2": {"datum": 700}}},
        {"data": {"values": [{"x": 300}, {"x": 700}]},
         "mark": {"type": "rule", "color": "#000", "strokeWidth": 1.5},
         "encoding": {"x": {"field": "x", "type": "quantitative"}, "y": {"datum": 0}, "y2": {"datum": 1}}},
        {"data": {"values": [{"y": 0}, {"y": 1}]},
         "mark": {"type": "rule", "color": "#000", "strokeWidth": 1.5},
         "encoding": {"y": {"field": "y", "type": "quantitative"}, "x": {"datum": 300}, "x2": {"datum": 700}}},
        {"data": {"name": "wl"}, "mark": {"type": "tick", "orient": "vertical", "size": 5, "thickness": 1, "color": "#000", "opacity": 1, "yOffset": -2.5},
         "encoding": {"x": {"field": "x", "type": "quantitative"}, "y": {"datum": 0}}},
        {"data": {"name": "r01"}, "mark": {"type": "tick", "orient": "horizontal", "size": 5, "thickness": 1, "color": "#000", "opacity": 1, "xOffset": 2.5},
         "encoding": {"y": {"field": "y", "type": "quantitative"}, "x": {"datum": 300}}},
        {"data": {"values": [
          {"x": 300, "y": 0.008}, {"x": 335, "y": 0.01}, {"x": 340, "y": 0.015}, {"x": 360, "y": 0.018}, {"x": 380, "y": 0.026}, {"x": 400, "y": 0.047},
          {"x": 410, "y": 0.06}, {"x": 420, "y": 0.085}, {"x": 430, "y": 0.155}, {"x": 435, "y": 0.21}, {"x": 440, "y": 0.28}, {"x": 445, "y": 0.385},
          {"x": 450, "y": 0.49}, {"x": 455, "y": 0.61}, {"x": 460, "y": 0.8}, {"x": 465, "y": 0.93}, {"x": 468, "y": 1.0}, {"x": 472, "y": 1.0},
          {"x": 475, "y": 0.986}, {"x": 480, "y": 0.95}, {"x": 490, "y": 0.856}, {"x": 500, "y": 0.74}, {"x": 510, "y": 0.61}, {"x": 525, "y": 0.4},
          {"x": 540, "y": 0.2}, {"x": 545, "y": 0.126}, {"x": 550, "y": 0.085}, {"x": 560, "y": 0.058}, {"x": 575, "y": 0.047}, {"x": 595, "y": 0.044},
          {"x": 600, "y": 0.039}, {"x": 699, "y": 0.039}, {"x": 700, "y": 0.06}]},
         "mark": {"type": "line", "color": "#0000ff", "strokeWidth": 2},
         "encoding": {
           "x": {"field": "x", "type": "quantitative",
             "scale": {"domain": [300, 700], "range": [123, 561], "nice": false, "zero": false},
             "axis": {"values": [300, 350, 400, 450, 500, 550, 600, 650, 700], "format": "d", "offset": -107, "labelFontSize": 12.5, "labelPadding": 6, "title": "Wavelength (nm)", "titleFontSize": 14.5, "titleFontWeight": "bold", "titlePadding": 9}},
           "y": {"field": "y", "type": "quantitative",
             "scale": {"domain": [0, 1], "range": [373, 90], "nice": false, "zero": false},
             "axis": {"values": [0, 0.2, 0.4, 0.6, 0.8, 1], "format": ".1f", "offset": -123, "labelFontSize": 12.5, "labelPadding": 8, "title": "Photo responsivity", "titleFontSize": 14.5, "titleFontWeight": "bold", "titlePadding": 9}}}},
        {"data": {"values": [{"x": 609.6, "y": 0.89, "t": "CLS 15-22C / L213B / TR8"}]},
         "mark": {"type": "text", "align": "center", "baseline": "middle", "font": "Liberation Serif", "fontSize": 15, "color": "#0000ff"},
         "encoding": {"x": {"field": "x", "type": "quantitative"}, "y": {"field": "y", "type": "quantitative"}, "text": {"field": "t"}}},
        {"data": {"values": [{"x": 202, "y": 1.13, "t": "(typ.)"}]},
         "mark": {"type": "text", "align": "left", "baseline": "middle", "fontSize": 23, "fontWeight": "bold"},
         "encoding": {"x": {"field": "x", "type": "quantitative"}, "y": {"field": "y", "type": "quantitative"}, "text": {"field": "t"}}}
      ]
    },
    {
      "width": 640, "height": 480,
      "layer": [
        {"data": {"values": [{"x": 350}, {"x": 400}, {"x": 450}, {"x": 500}, {"x": 550}, {"x": 600}, {"x": 650}]},
         "mark": {"type": "rule", "color": "#000", "strokeWidth": 1.2},
         "encoding": {"x": {"field": "x", "type": "quantitative"}, "y": {"datum": 0}, "y2": {"datum": 1}}},
        {"data": {"values": [{"y": 0.2}, {"y": 0.4}, {"y": 0.6}, {"y": 0.8}]},
         "mark": {"type": "rule", "color": "#000", "strokeWidth": 1.2},
         "encoding": {"y": {"field": "y", "type": "quantitative"}, "x": {"datum": 300}, "x2": {"datum": 700}}},
        {"data": {"values": [{"x": 300}, {"x": 700}]},
         "mark": {"type": "rule", "color": "#000", "strokeWidth": 1.5},
         "encoding": {"x": {"field": "x", "type": "quantitative"}, "y": {"datum": 0}, "y2": {"datum": 1}}},
        {"data": {"values": [{"y": 0}, {"y": 1}]},
         "mark": {"type": "rule", "color": "#000", "strokeWidth": 1.5},
         "encoding": {"y": {"field": "y", "type": "quantitative"}, "x": {"datum": 300}, "x2": {"datum": 700}}},
        {"data": {"name": "wl"}, "mark": {"type": "tick", "orient": "vertical", "size": 5, "thickness": 1, "color": "#000", "opacity": 1, "yOffset": -2.5},
         "encoding": {"x": {"field": "x", "type": "quantitative"}, "y": {"datum": 0}}},
        {"data": {"name": "r01"}, "mark": {"type": "tick", "orient": "horizontal", "size": 5, "thickness": 1, "color": "#000", "opacity": 1, "xOffset": 2.5},
         "encoding": {"y": {"field": "y", "type": "quantitative"}, "x": {"datum": 300}}},
        {"data": {"values": [
          {"x": 300, "y": 0.024}, {"x": 325, "y": 0.027}, {"x": 350, "y": 0.033}, {"x": 400, "y": 0.051}, {"x": 450, "y": 0.078}, {"x": 475, "y": 0.097},
          {"x": 490, "y": 0.12}, {"x": 500, "y": 0.142}, {"x": 502, "y": 0.196}, {"x": 510, "y": 0.34}, {"x": 520, "y": 0.51}, {"x": 530, "y": 0.705},
          {"x": 540, "y": 0.89}, {"x": 550, "y": 0.996}, {"x": 555, "y": 1.0}, {"x": 560, "y": 0.984}, {"x": 570, "y": 0.92}, {"x": 580, "y": 0.8},
          {"x": 590, "y": 0.68}, {"x": 600, "y": 0.52}, {"x": 610, "y": 0.366}, {"x": 620, "y": 0.22}, {"x": 630, "y": 0.124}, {"x": 640, "y": 0.075},
          {"x": 650, "y": 0.057}, {"x": 675, "y": 0.039}, {"x": 700, "y": 0.029}]},
         "mark": {"type": "line", "color": "#1c3f1c", "strokeWidth": 2},
         "encoding": {
           "x": {"field": "x", "type": "quantitative",
             "scale": {"domain": [300, 700], "range": [110, 536], "nice": false, "zero": false},
             "axis": {"values": [300, 350, 400, 450, 500, 550, 600, 650, 700], "format": "d", "offset": -152, "labelFontSize": 12.5, "labelPadding": 6, "title": "Wavelength (nm)", "titleFontSize": 14.5, "titleFontWeight": "bold", "titlePadding": 9}},
           "y": {"field": "y", "type": "quantitative",
             "scale": {"domain": [0, 1], "range": [328, 53], "nice": false, "zero": false},
             "axis": {"values": [0, 0.2, 0.4, 0.6, 0.8, 1], "format": ".1f", "offset": -110, "labelFontSize": 12.5, "labelPadding": 8, "title": "Photo responsivity", "titleFontSize": 14.5, "titleFontWeight": "bold", "titlePadding": 9}}}},
        {"data": {"values": [{"x": 392, "y": 0.895, "t": "CLS 15-22C / L213G / TR8"}]},
         "mark": {"type": "text", "align": "center", "baseline": "middle", "font": "Liberation Serif", "fontSize": 15, "color": "#1c3f1c"},
         "encoding": {"x": {"field": "x", "type": "quantitative"}, "y": {"field": "y", "type": "quantitative"}, "text": {"field": "t"}}},
        {"data": {"values": [{"x": 730, "y": 1.135, "t": "(typ.)"}]},
         "mark": {"type": "text", "align": "right", "baseline": "middle", "fontSize": 23, "fontWeight": "bold"},
         "encoding": {"x": {"field": "x", "type": "quantitative"}, "y": {"field": "y", "type": "quantitative"}, "text": {"field": "t"}}}
      ]
    }
  ]
}
